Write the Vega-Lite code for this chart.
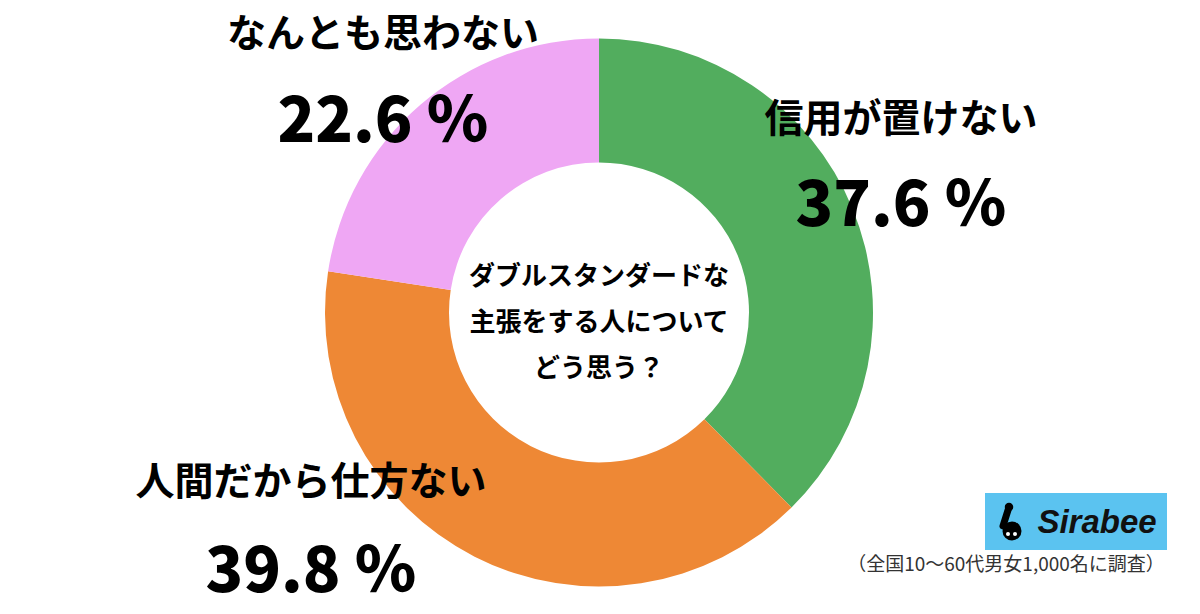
{
  "$schema": "https://vega.github.io/schema/vega-lite/v6.json",
  "width": 1198,
  "height": 603,
  "autosize": {"type": "none"},
  "padding": {"left": 0, "top": 11, "right": 2, "bottom": 0},
  "background": "white",
  "config": {"view": {"stroke": null}},
  "datasets": {
    "answers": [
      {"answer": "信用が置けない", "pct": 37.6, "order": 1, "pctLabel": "37.6 ％", "lx": 901, "ly": 120, "py": 207},
      {"answer": "人間だから仕方ない", "pct": 39.8, "order": 2, "pctLabel": "39.8 ％", "lx": 311, "ly": 483, "py": 573},
      {"answer": "なんとも思わない", "pct": 22.6, "order": 3, "pctLabel": "22.6 ％", "lx": 383, "ly": 35, "py": 123}
    ],
    "question": [
      {"q": "ダブルスタンダードな\n主張をする人について\nどう思う？", "x": 599, "y": 277}
    ],
    "logoBox": [
      {"x": 985, "x2": 1167, "y": 493, "y2": 550}
    ],
    "logoText": [
      {"t": "Sirabee", "x": 1097, "y": 523}
    ],
    "logoBlob": [
      {"x": 1012, "y": 531, "s": 470},
      {"x": 1009, "y": 507, "s": 90}
    ],
    "logoNeck": [
      {"x": 1009, "y": 507, "x2": 1003, "y2": 526}
    ],
    "logoEyes": [
      {"x": 1008, "y": 534},
      {"x": 1015, "y": 534}
    ],
    "note": [
      {"t": "（全国10〜60代男女1,000名に調査）", "x": 1006, "y": 565}
    ]
  },
  "layer": [
    {
      "data": {"name": "answers"},
      "mark": {"type": "arc", "innerRadius": 150, "outerRadius": 274, "stroke": null},
      "encoding": {
        "theta": {"field": "pct", "type": "quantitative", "stack": true},
        "order": {"field": "order", "type": "quantitative"},
        "color": {
          "field": "answer",
          "type": "nominal",
          "scale": {
            "domain": ["信用が置けない", "人間だから仕方ない", "なんとも思わない"],
            "range": ["#52AD5E", "#EE8835", "#EFA7F4"]
          },
          "legend": null
        }
      }
    },
    {
      "data": {"name": "answers"},
      "mark": {"type": "text", "font": "Noto Sans CJK JP", "fontWeight": "bold", "fontSize": 39, "align": "center", "baseline": "middle", "color": "#000000"},
      "encoding": {
        "x": {"field": "lx", "type": "quantitative", "scale": {"domain": [0, 1198], "nice": false, "zero": false}, "axis": null},
        "y": {"field": "ly", "type": "quantitative", "scale": {"domain": [11, 614], "nice": false, "zero": false, "reverse": true}, "axis": null},
        "text": {"field": "answer", "type": "nominal"}
      }
    },
    {
      "data": {"name": "answers"},
      "mark": {"type": "text", "font": "Noto Sans CJK JP", "fontWeight": 900, "fontSize": 62, "align": "center", "baseline": "middle", "color": "#000000"},
      "encoding": {
        "x": {"field": "lx", "type": "quantitative", "axis": null},
        "y": {"field": "py", "type": "quantitative", "axis": null},
        "text": {"field": "pctLabel", "type": "nominal"}
      }
    },
    {
      "data": {"name": "question"},
      "mark": {"type": "text", "font": "Noto Sans CJK JP", "fontWeight": "bold", "fontSize": 26, "lineHeight": 46, "lineBreak": "\n", "align": "center", "baseline": "middle", "color": "#000000"},
      "encoding": {
        "x": {"field": "x", "type": "quantitative", "axis": null},
        "y": {"field": "y", "type": "quantitative", "axis": null},
        "text": {"field": "q", "type": "nominal"}
      }
    },
    {
      "data": {"name": "logoBox"},
      "mark": {"type": "rect", "color": "#5BC3F0"},
      "encoding": {
        "x": {"field": "x", "type": "quantitative", "axis": null},
        "x2": {"field": "x2"},
        "y": {"field": "y", "type": "quantitative", "axis": null},
        "y2": {"field": "y2"}
      }
    },
    {
      "data": {"name": "logoNeck"},
      "mark": {"type": "rule", "color": "#000000", "strokeWidth": 7, "strokeCap": "round"},
      "encoding": {
        "x": {"field": "x", "type": "quantitative", "axis": null},
        "x2": {"field": "x2"},
        "y": {"field": "y", "type": "quantitative", "axis": null},
        "y2": {"field": "y2"}
      }
    },
    {
      "data": {"name": "logoBlob"},
      "mark": {"type": "circle", "color": "#000000", "opacity": 1},
      "encoding": {
        "x": {"field": "x", "type": "quantitative", "axis": null},
        "y": {"field": "y", "type": "quantitative", "axis": null},
        "size": {"field": "s", "type": "quantitative", "scale": {"type": "identity"}, "legend": null}
      }
    },
    {
      "data": {"name": "logoEyes"},
      "mark": {"type": "circle", "color": "#FFFFFF", "opacity": 1, "size": 16},
      "encoding": {
        "x": {"field": "x", "type": "quantitative", "axis": null},
        "y": {"field": "y", "type": "quantitative", "axis": null}
      }
    },
    {
      "data": {"name": "logoText"},
      "mark": {"type": "text", "font": "Liberation Sans", "fontWeight": "bold", "fontStyle": "italic", "fontSize": 33, "align": "center", "baseline": "middle", "color": "#111111"},
      "encoding": {
        "x": {"field": "x", "type": "quantitative", "axis": null},
        "y": {"field": "y", "type": "quantitative", "axis": null},
        "text": {"field": "t", "type": "nominal"}
      }
    },
    {
      "data": {"name": "note"},
      "mark": {"type": "text", "font": "Noto Sans CJK JP", "fontSize": 19, "align": "center", "baseline": "middle", "color": "#333333"},
      "encoding": {
        "x": {"field": "x", "type": "quantitative", "axis": null},
        "y": {"field": "y", "type": "quantitative", "axis": null},
        "text": {"field": "t", "type": "nominal"}
      }
    }
  ]
}
